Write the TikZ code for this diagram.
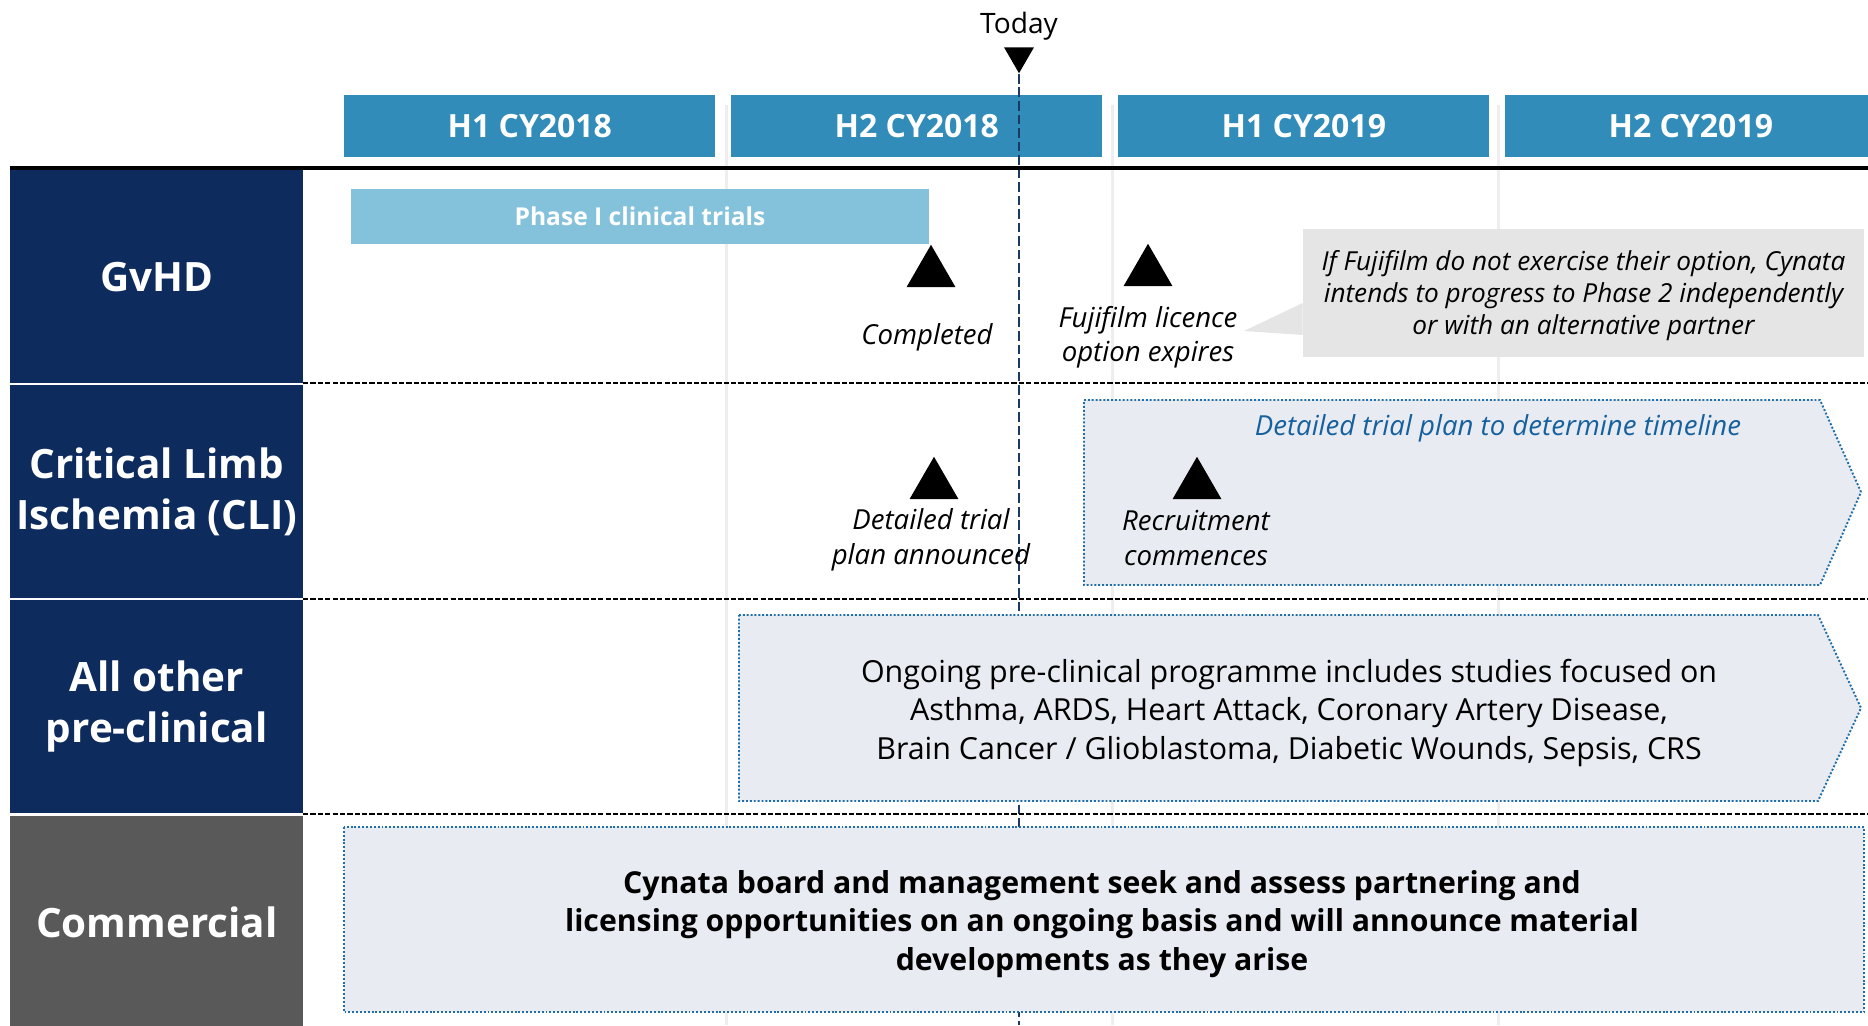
\documentclass[tikz,border=0pt]{standalone}
\usepackage{fontspec}
\setmainfont{Open Sans}
\usepackage{xcolor}
\definecolor{navy}{RGB}{14,43,94}
\definecolor{slate}{RGB}{89,89,89}
\definecolor{periodblue}{RGB}{49,140,185}
\definecolor{phaseblue}{RGB}{132,194,219}
\definecolor{calloutgrey}{RGB}{229,229,229}
\definecolor{boxfill}{RGB}{232,236,242}
\definecolor{dotblue}{RGB}{31,110,170}
\definecolor{noteblue}{RGB}{22,96,158}
\definecolor{todayblue}{RGB}{27,58,98}
\definecolor{gridgrey}{RGB}{238,238,238}
\usepackage{tikz}
\usetikzlibrary{shapes.geometric}
\newcommand{\fsize}[2]{\fontsize{#1}{#2}\selectfont}
\newcommand{\widthperiod}{7.42cm}
\newcommand{\heightperiod}{1.24cm}
\newcommand{\widthrowhead}{5.86cm}
\newcommand{\heightrowhead}{4.25cm}
\newcommand{\stepperiod}{387}
\tikzset{
    common/.style={inner sep=0pt, align=center},
    period/.style={common, anchor=west, fill=periodblue, text=white, minimum width=\widthperiod, minimum height=\heightperiod, font=\bfseries\fsize{18.2}{21}},
    rowhead/.style={common, anchor=north west, fill=navy, text=white, minimum width=\widthrowhead, minimum height=\heightrowhead, font=\bfseries\fsize{23}{29}},
    bar/.style={common, fill=phaseblue, text=white, minimum width=11.56cm, minimum height=1.1cm, font=\bfseries\fsize{14}{17}},
    milestone/.style={regular polygon, regular polygon sides=3, fill=black, inner sep=0pt, minimum size=1.13cm},
    note/.style={common, font=\itshape\fsize{15.7}{19.6}},
    callout/.style={common, fill=calloutgrey, minimum width=11.22cm, minimum height=2.56cm},
    plan/.style={draw=dotblue, fill=boxfill, line width=1.1pt, dash pattern=on 1.1pt off 1.1pt},
    body/.style={common, font=\fsize{17.3}{21.9}},
    rowsep/.style={line width=1.1pt, dash pattern=on 3pt off 1.2pt},
    gridline/.style={gridgrey, line width=1.7pt},
    todayline/.style={todayblue, line width=1.2pt, dash pattern=on 5.5pt off 2.2pt}
}

\begin{document}
\begin{tikzpicture}[x=0.02cm, y=-0.02cm]
    \useasboundingbox (0,0) rectangle (1868,1025);
    \foreach \x in {726,1112,1498}
        \draw[gridline] (\x,105) -- (\x,1025);

    \path (344,126) node[period] (h1a) {H1 CY2018}
        to ++(\stepperiod,0) node[period] (h2a) {H2 CY2018}
        to ++(\stepperiod,0) node[period] (h1b) {H1 CY2019}
        to ++(\stepperiod,0) node[period] (h2b) {H2 CY2019};

    \node[font=\fsize{16}{19}] (today) at (1019,26) {Today};
    \node[milestone, minimum size=0.69cm, rotate=180] (todaymark) at (1019,56) {};
    \coordinate (todayend) at (1019,1025);
    \draw[todayline] (todaymark.corner 1) -- (todayend);

    \draw[line width=1.8pt] (10,168) -- (1868,168);
    \node[rowhead] (gvhd) at (10,170) {GvHD};
    \node[rowhead] (cli) at (10,385) {Critical Limb\\Ischemia (CLI)};
    \node[rowhead] (preclin) at (10,600) {All other\\pre-clinical};
    \node[rowhead, fill=slate] (commercial) at (10,816) {Commercial};
    \foreach \y in {383,599,814}
        \draw[rowsep] (303,\y) -- (1868,\y);

    \draw[plan] (1084,400) -- (1820,400) -- (1861,492) -- (1820,585) -- (1084,585) -- cycle;
    \draw[plan] (739,615) -- (1818,615) -- (1861,708) -- (1818,801) -- (739,801) -- cycle;
    \draw[plan] (344,827) rectangle (1864,1012);

    \node[bar] (phase1) at (640,216) {Phase I clinical trials};
    \node[milestone] (completed) at (931,273) {};
    \node[note] (completedtext) at (927,337.5) {Completed};
    \node[milestone] (fujifilm) at (1148,272) {};
    \node[note] (fujifilmtext) at (1148,337) {Fujifilm licence\\option expires};
    \node[callout] (fujinote) at (1583.5,293) {};
    \node[note, font=\itshape\fsize{14.9}{18.2}] (fujinotetext) at (1583.5,296) {If Fujifilm do not exercise their option, Cynata\\intends to progress to Phase 2 independently\\or with an alternative partner};
    \coordinate (callouttip) at (1244,331);
    \fill[calloutgrey] ([yshift=-0.2cm]fujinote.west) -- (callouttip) -- ([yshift=-0.84cm]fujinote.west) -- cycle;

    \node[note, text=noteblue] (timeline) at (1498,428.5) {Detailed trial plan to determine timeline};
    \node[milestone] (announced) at (934,485) {};
    \node[note] (announcedtext) at (931,540) {Detailed trial\\plan announced};
    \node[milestone] (recruitment) at (1197,485) {};
    \node[note] (recruitmenttext) at (1196,538) {Recruitment\\commences};

    \node[body] (studies) at (1289,713) {Ongoing pre-clinical programme includes studies focused on\\Asthma, ARDS, Heart Attack, Coronary Artery Disease,\\Brain Cancer / Glioblastoma, Diabetic Wounds, Sepsis, CRS};
    \node[body, font=\bfseries\fsize{17.2}{21.9}] (partnering) at (1102,924) {Cynata board and management seek and assess partnering and\\licensing opportunities on an ongoing basis and will announce material\\developments as they arise};
\end{tikzpicture}
\end{document}
